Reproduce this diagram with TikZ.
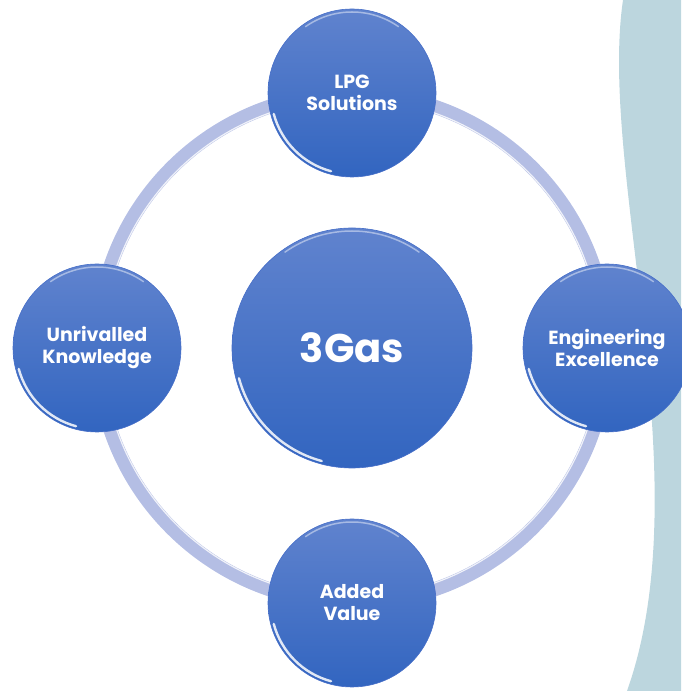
\documentclass[tikz,border=0pt]{standalone}
\usepackage{fontspec}
\setmainfont{Poppins}
\definecolor{ballTop}{RGB}{96,131,206}
\definecolor{ballBot}{RGB}{50,101,192}
\definecolor{ballRim}{RGB}{70,110,200}
\definecolor{ringLav}{RGB}{180,190,228}
\definecolor{sideBlue}{RGB}{188,214,222}
\tikzset{
  bubble/.style={circle, minimum size=168pt, inner sep=0pt, top color=ballTop,
    bottom color=ballBot, draw=ballRim, line width=.6pt, text=white,
    font=\bfseries\fontsize{19}{22}\selectfont, align=center},
  hubbubble/.style={bubble, minimum size=240pt, font=\bfseries\fontsize{40}{44}\selectfont},
  ring/.style={ringLav, line width=14pt},
  glint/.style={white, line width=2.4pt, line cap=round, opacity=.85},
  rimlight/.style={white, line width=1.5pt, line cap=round, opacity=.45}
}
\begin{document}
\begin{tikzpicture}[x=1pt, y=1pt]
    \useasboundingbox (0,0) rectangle (681,691);
    % pale band on the right
    \fill[sideBlue] (623,691) .. controls (598,521) and (702,211) .. (627,0)
        -- (681,0) -- (681,691) -- cycle;

    \coordinate (mid) at (352,343);
    \draw[ring] (mid) circle[radius=255];
    \draw[white, line width=1.2pt, opacity=.8] (mid) circle[radius=249];

    \node[hubbubble] (hub) at (mid) {3Gas};
    \foreach \a/\n/\t in {90/lpg/{LPG\\Solutions}, 0/eng/{Engineering\\Excellence},
        270/added/{Added\\Value}, 180/know/{Unrivalled\\Knowledge}}
    {
        \node[bubble] (\n) at ([shift={(\a:255)}]mid) {\t};
    }

    \foreach \n/\r in {hub/117, lpg/81, eng/81, added/81, know/81}
    {
        % \draw (\n.center) circle (\r);
        \draw[glint] (\n.center) ++(195:\r) arc[start angle=195, end angle=255, radius=\r];
        \draw[rimlight] (\n.center) ++(55:\r) arc[start angle=55, end angle=125, radius=\r];
    }
\end{tikzpicture}
\end{document}
